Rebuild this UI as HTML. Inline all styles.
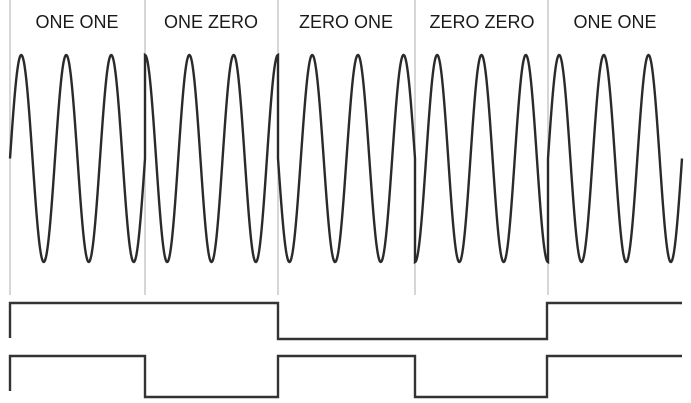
<!DOCTYPE html>
<html><head><meta charset="utf-8"><style>
html,body{margin:0;padding:0;background:#fff;}
svg{display:block}
text{font-family:"Liberation Sans",sans-serif;font-size:18px;fill:#1a1a1a;text-anchor:middle}
</style></head><body>
<svg id="s" width="691" height="403" viewBox="0 0 691 403" xmlns="http://www.w3.org/2000/svg">
<g stroke="#c8c8c8" stroke-width="1.5">
<line x1="10" y1="0" x2="10" y2="295"/>
<line x1="145" y1="0" x2="145" y2="295"/>
<line x1="278" y1="0" x2="278" y2="295"/>
<line x1="415" y1="0" x2="415" y2="295"/>
<line x1="548" y1="0" x2="548" y2="295"/>
</g>
<text x="77" y="28">ONE ONE</text>
<text x="211" y="28">ONE ZERO</text>
<text x="346" y="28">ZERO ONE</text>
<text x="482" y="28">ZERO ZERO</text>
<text x="615" y="28">ONE ONE</text>
<path id="w" fill="none" stroke="#2a2a2a" stroke-width="2.4"/>
<path d="M10,338 V303 H278 V339 H547 V303 H682" fill="none" stroke="#333" stroke-width="2.4"/>
<path d="M10,391 V356 H145 V397 H278 V356 H415 V397 H547 V356 H682" fill="none" stroke="#333" stroke-width="2.4"/>
</svg>
<script>
var segs=[[10,145,0],[145,278,Math.PI/2],[278,415,Math.PI],[415,548,1.5*Math.PI],[548,682,0]];
var c=158.5,A=103.5,d="";
segs.forEach(function(s){
  var P=(s[1]-s[0])/3;
  for(var x=s[0];x<=s[1]+0.001;x+=0.5){
    var y=c-A*Math.sin(2*Math.PI*(x-s[0])/P+s[2]);
    d+=(d?"L":"M")+x.toFixed(1)+","+y.toFixed(1);
  }
});
document.getElementById("w").setAttribute("d",d);
</script>
</body></html>
